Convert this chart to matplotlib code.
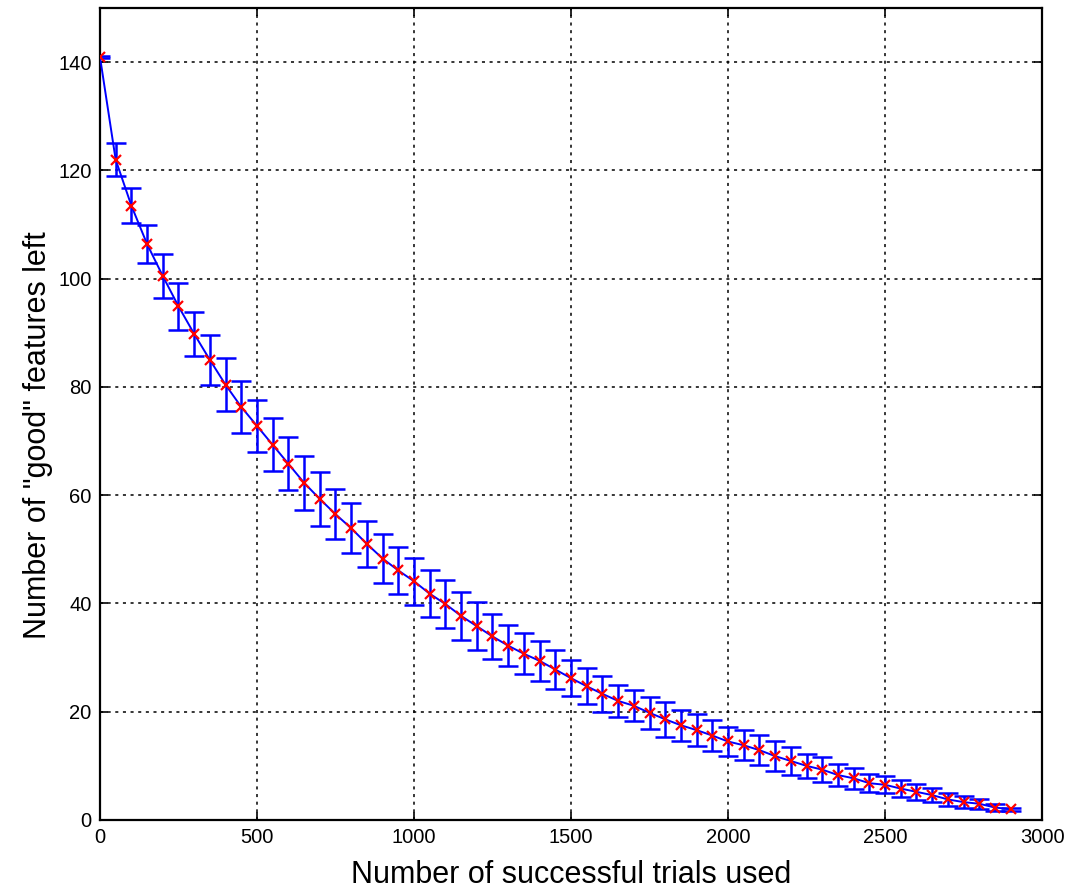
import numpy as np
import matplotlib
matplotlib.use("Agg")
import matplotlib.pyplot as plt

plt.rcParams["font.family"] = ["Liberation Sans", "DejaVu Sans"]

# trials used (x), mean number of good features left, and error half-width
trials = np.arange(0, 2901, 50)
good_left = [
    141.0, 122.0, 113.5, 106.4, 100.5, 94.9, 89.8, 85.0, 80.4, 76.3,
    72.8, 69.3, 65.8, 62.3, 59.3, 56.5, 53.9, 51.0, 48.3, 46.1,
    44.1, 41.8, 39.9, 37.7, 35.8, 33.9, 32.2, 30.7, 29.4, 27.8,
    26.2, 24.7, 23.3, 22.0, 21.1, 19.8, 18.6, 17.5, 16.6, 15.6,
    14.5, 13.8, 12.9, 11.8, 10.9, 10.0, 9.3, 8.3, 7.7, 6.8,
    6.5, 5.8, 5.2, 4.6, 3.8, 3.3, 3.0, 2.3, 2.0,
]
spread = [
    0.2, 3.0, 3.2, 3.5, 4.0, 4.3, 4.1, 4.6, 4.9, 4.75,
    4.85, 4.9, 4.9, 4.95, 4.9, 4.6, 4.65, 4.3, 4.5, 4.3,
    4.3, 4.3, 4.45, 4.45, 4.4, 4.2, 3.8, 3.8, 3.65, 3.65,
    3.35, 3.3, 3.3, 3.0, 2.9, 3.0, 3.2, 2.9, 3.0, 2.8,
    2.75, 2.8, 2.8, 2.8, 2.5, 2.25, 2.3, 2.0, 1.9, 1.7,
    1.6, 1.5, 1.5, 1.3, 1.25, 1.1, 0.9, 0.65, 0.3,
]

fig = plt.figure(figsize=(10.69, 8.91), dpi=100)
ax = fig.add_axes([0.0935, 0.0797, 0.8813, 0.9113])

ax.errorbar(trials, good_left, yerr=spread, color="#0000ff", ecolor="#0000ff",
            elinewidth=1.8, capsize=7, capthick=1.8, linewidth=1.4, zorder=3)
ax.plot(trials, good_left, linestyle="none", marker="x", color="#ff0000",
        markersize=7, markeredgewidth=1.6, zorder=4)

ax.set_xlim(0, 3000)
ax.set_ylim(0, 150)
ax.set_xticks(np.arange(0, 3001, 500))
ax.set_yticks(np.arange(0, 141, 20))
ax.grid(True, color="black", linestyle=(0, (2, 3)), linewidth=1.1)
ax.tick_params(direction="in", length=6, width=1.2, labelsize=14.5,
               top=True, right=True, pad=6)
for side in ax.spines.values():
    side.set_linewidth(1.6)

ax.set_xlabel("Number of successful trials used", fontsize=22, labelpad=9)
ax.set_ylabel('Number of "good" features left', fontsize=22)
ax.yaxis.set_label_coords(-0.05, 0.474)

fig.savefig("out.png", dpi=100)
